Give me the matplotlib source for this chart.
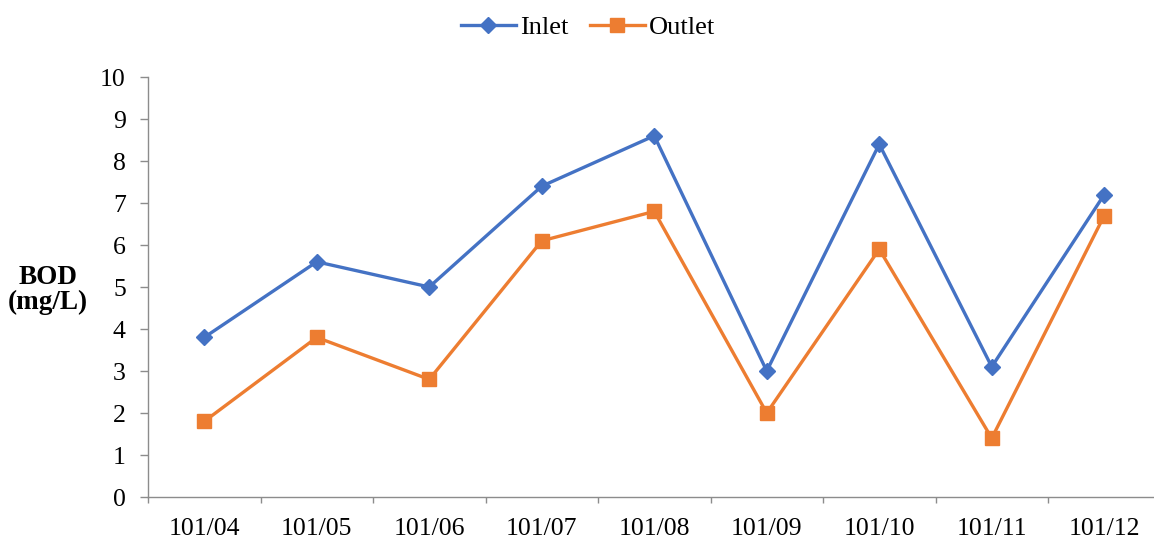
import matplotlib.pyplot as plt
from matplotlib.ticker import MultipleLocator, FixedLocator

months = ["101/04", "101/05", "101/06", "101/07", "101/08",
          "101/09", "101/10", "101/11", "101/12"]
inlet = [3.8, 5.6, 5.0, 7.4, 8.6, 3.0, 8.4, 3.1, 7.2]
outlet = [1.8, 3.8, 2.8, 6.1, 6.8, 2.0, 5.9, 1.4, 6.7]

plt.rcParams['font.family'] = ['Liberation Serif', 'DejaVu Serif']

fig = plt.figure(figsize=(11.54, 5.40), dpi=100)
W, H = 1154, 540
ax = fig.add_axes([148 / W, 1 - 497 / H, (1160.5 - 148) / W, (497 - 77) / H])

x = list(range(len(months)))
blue = "#4472C4"
orange = "#ED7D31"
ax.plot(x, inlet, color=blue, lw=2.4, marker="D", ms=8, label="Inlet",
        solid_joinstyle="round")
ax.plot(x, outlet, color=orange, lw=2.4, marker="s", ms=9.5, label="Outlet",
        solid_joinstyle="round")

ax.set_xlim(-0.5, len(months) - 0.5)
ax.set_ylim(0, 10)
ax.yaxis.set_major_locator(MultipleLocator(1))
ax.set_xticks(x)
ax.set_xticklabels(months)
ax.xaxis.set_minor_locator(FixedLocator([i + 0.5 for i in range(-1, len(months))]))

axis_col = "#8C8C8C"
for side in ("top", "right"):
    ax.spines[side].set_visible(False)
for side in ("left", "bottom"):
    ax.spines[side].set_color(axis_col)
    ax.spines[side].set_linewidth(1.0)

ax.tick_params(axis="x", which="major", length=0, pad=15, labelsize=18.5)
ax.tick_params(axis="x", which="minor", length=4.5, color=axis_col, width=1.0)
ax.tick_params(axis="y", length=6, color=axis_col, width=1.0, pad=10, labelsize=18.5)

ax.set_ylabel("BOD\n(mg/L)", rotation=0, fontsize=19.5, fontweight="bold",
              ha="center", va="center", linespacing=1.0)
ax.yaxis.set_label_coords(-100 / (1160.5 - 148), 0.493)

fig.legend(loc="center", bbox_to_anchor=(588 / W, 1 - 27 / H), ncol=2,
           frameon=False, fontsize=19, handlelength=2.1, columnspacing=0.8,
           handletextpad=0.15)

fig.savefig("out.png", dpi=100)
